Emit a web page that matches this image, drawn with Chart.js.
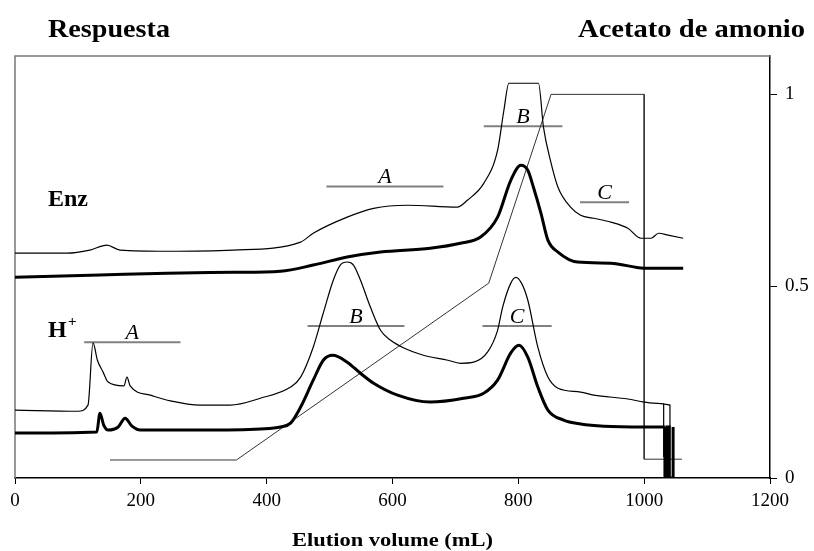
<!DOCTYPE html>
<html>
<head>
<meta charset="utf-8">
<script src="https://cdn.jsdelivr.net/npm/chart.js@4/dist/chart.umd.min.js"></script>
<style>
  html, body { margin: 0; padding: 0; background: #fff; }
  #wrap { width: 814px; height: 551px; position: relative; }
</style>
</head>
<body>
<div id="wrap"><canvas id="chart"></canvas></div>
<script>
// x: elution volume (mL), y: right-axis units
const enzThinX = [0, 83, 119, 146, 167, 242, 347, 454, 474, 528, 570, 624, 703, 719, 745, 767, 777, 785, 832, 840, 851, 863, 883, 899, 920, 947, 974, 995, 1011, 1023, 1038, 1062];
const enzThinY = [0.586, 0.586, 0.594, 0.607, 0.594, 0.591, 0.594, 0.615, 0.638, 0.680, 0.703, 0.711, 0.706, 0.724, 0.768, 0.854, 0.958, 1.029, 1.029, 0.914, 0.828, 0.758, 0.706, 0.685, 0.677, 0.667, 0.651, 0.625, 0.625, 0.638, 0.633, 0.625];

const enzThickX = [0, 135, 242, 347, 422, 474, 528, 581, 660, 708, 740, 767, 788, 804, 815, 824, 836, 847, 863, 894, 947, 1000, 1062];
const enzThickY = [0.523, 0.529, 0.534, 0.536, 0.539, 0.555, 0.576, 0.589, 0.599, 0.612, 0.628, 0.680, 0.776, 0.815, 0.802, 0.758, 0.690, 0.620, 0.589, 0.563, 0.560, 0.547, 0.547];

const hThinX = [0, 100, 116, 124, 131, 140, 148, 173, 178, 183, 215, 247, 294, 342, 390, 438, 454, 474, 490, 506, 517, 528, 538, 549, 565, 581, 597, 618, 649, 688, 708, 729, 751, 767, 775, 788, 796, 805, 815, 831, 847, 863, 899, 920, 974, 1000, 1031];
const hThinY = [0.177, 0.174, 0.190, 0.352, 0.307, 0.276, 0.250, 0.240, 0.263, 0.240, 0.216, 0.201, 0.190, 0.190, 0.208, 0.237, 0.263, 0.341, 0.430, 0.516, 0.555, 0.563, 0.555, 0.516, 0.445, 0.385, 0.359, 0.339, 0.320, 0.307, 0.299, 0.302, 0.328, 0.385, 0.445, 0.508, 0.523, 0.508, 0.464, 0.341, 0.263, 0.234, 0.224, 0.216, 0.206, 0.198, 0.193];
// end of the run, where the trace drops off
const hThinEndX = [1031, 1031, 1031, 1041, 1041];
const hThinEndY = [0.193, 0.055, 0.193, 0.190, 0.133];

const hThickX = [0, 130, 135, 141, 148, 164, 175, 186, 199, 294, 390, 422, 438, 454, 474, 490, 505, 528, 549, 570, 608, 660, 713, 745, 767, 788, 801, 815, 831, 847, 872, 899, 936, 1000, 1033];
const hThickY = [0.117, 0.120, 0.169, 0.138, 0.125, 0.133, 0.156, 0.135, 0.125, 0.125, 0.128, 0.133, 0.143, 0.185, 0.255, 0.307, 0.320, 0.302, 0.273, 0.247, 0.216, 0.198, 0.208, 0.221, 0.255, 0.326, 0.346, 0.315, 0.237, 0.177, 0.151, 0.141, 0.135, 0.133, 0.133];
const hThickEndX = [1033, 1033, 1036, 1036, 1040, 1040, 1046, 1046, 1046];
const hThickEndY = [0.133, 0, 0, 0.133, 0.133, 0, 0, 0.133, 0];

// ammonium acetate gradient
const gradX = [151, 352, 753, 852, 1000, 1000, 1060];
const gradY = [0.047, 0.047, 0.508, 1.0, 1.0, 0.049, 0.049];

// fraction bars: label, start, end, level
const barLabels = ['A', 'B', 'C', 'A', 'B', 'C'];
const barStart = [495, 745, 898, 110, 465, 743];
const barEnd = [681, 870, 976, 263, 619, 853];
const barLevel = [0.760, 0.917, 0.719, 0.354, 0.396, 0.396];

const xTicks = [0, 200, 400, 600, 800, 1000, 1200];
const yTicks = [0, 0.5, 1];

const pts = (xs, ys) => xs.map((x, i) => ({ x: x, y: ys[i] }));

const smooth = { cubicInterpolationMode: 'monotone' };
const straight = { tension: 0 };

const datasets = [
  Object.assign({ data: pts(enzThinX, enzThinY), borderWidth: 1.2 }, smooth),
  Object.assign({ data: pts(enzThickX, enzThickY), borderWidth: 3 }, smooth),
  Object.assign({ data: pts(hThinX, hThinY), borderWidth: 1.2 }, smooth),
  Object.assign({ data: pts(hThinEndX, hThinEndY), borderWidth: 1.2 }, straight),
  Object.assign({ data: pts(hThickX, hThickY), borderWidth: 3 }, smooth),
  Object.assign({ data: pts(hThickEndX, hThickEndY), borderWidth: 3 }, straight),
  Object.assign({ data: pts(gradX, gradY), borderWidth: 1, borderColor: '#333' }, straight)
].map(d => Object.assign({ borderColor: '#000', pointRadius: 0, fill: false }, d));

barLabels.forEach((lab, i) => {
  datasets.push({
    data: [{ x: barStart[i], y: barLevel[i] }, { x: barEnd[i], y: barLevel[i] }],
    borderColor: '#808080', borderWidth: 2, pointRadius: 0, fill: false
  });
});

function fitText(ctx, text, x, y, width, font) {
  ctx.save();
  ctx.font = font;
  const w = ctx.measureText(text).width;
  ctx.translate(x, y);
  ctx.scale(width / w, 1);
  ctx.textAlign = 'left';
  ctx.textBaseline = 'alphabetic';
  ctx.fillText(text, 0, 0);
  ctx.restore();
}

const decor = {
  id: 'decor',
  beforeDatasetsDraw(chart) {
    const { ctx, chartArea: a } = chart;
    ctx.save();
    ctx.strokeStyle = '#777';
    ctx.lineWidth = 1.5;
    ctx.beginPath();
    ctx.moveTo(a.left, a.bottom);
    ctx.lineTo(a.left, a.top);
    ctx.lineTo(a.right, a.top);
    ctx.stroke();
    ctx.restore();
  },
  afterDatasetsDraw(chart) {
    const { ctx } = chart;
    const xs = chart.scales.x, ys = chart.scales.y;
    ctx.save();
    ctx.fillStyle = '#000';
    fitText(ctx, 'Respuesta', 48, 37, 122, 'bold 26px "Liberation Serif", serif');
    fitText(ctx, 'Acetato de amonio', 578, 37, 227, 'bold 26px "Liberation Serif", serif');
    fitText(ctx, 'Elution volume (mL)', 292, 546, 201, 'bold 18px "Liberation Serif", serif');

    ctx.font = 'bold 24px "Liberation Serif", serif';
    ctx.textAlign = 'left';
    ctx.textBaseline = 'alphabetic';
    ctx.fillText('Enz', 48, 206);
    ctx.fillText('H', 48, 337);
    ctx.font = 'bold 15px "Liberation Serif", serif';
    ctx.fillText('+', 68, 326);

    ctx.font = 'italic 22px "Liberation Serif", serif';
    ctx.textAlign = 'center';
    barLabels.forEach((lab, i) => {
      const cx = xs.getPixelForValue((barStart[i] + barEnd[i]) / 2);
      const cy = ys.getPixelForValue(barLevel[i]) - 3;
      ctx.fillText(lab, cx, cy);
    });
    ctx.restore();
  }
};

new Chart(document.getElementById('chart'), {
  type: 'line',
  data: { datasets: datasets },
  options: {
    responsive: true,
    maintainAspectRatio: false,
    animation: false,
    layout: { padding: { left: 15, top: 56, right: 0, bottom: 0 } },
    plugins: { legend: { display: false }, tooltip: { enabled: false } },
    scales: {
      x: {
        type: 'linear',
        min: 0,
        max: 1200,
        afterBuildTicks: s => { s.ticks = xTicks.map(v => ({ value: v })); },
        afterFit: s => { s.height = 73; },
        grid: { drawOnChartArea: false, drawTicks: true, tickLength: 6, color: '#000' },
        border: { display: true, color: '#000', width: 1.5 },
        ticks: {
          color: '#000', padding: 6, maxRotation: 0,
          callback: v => String(v),
          font: { family: '"Liberation Serif", serif', size: 19 }
        }
      },
      y: {
        type: 'linear',
        position: 'right',
        min: 0,
        max: 1.1,
        afterBuildTicks: s => { s.ticks = yTicks.map(v => ({ value: v })); },
        afterFit: s => { s.width = 44; },
        grid: { drawOnChartArea: false, drawTicks: true, tickLength: 7, color: '#000' },
        border: { display: true, color: '#000', width: 1.5 },
        ticks: {
          color: '#000', padding: 8,
          callback: v => String(v),
          font: { family: '"Liberation Serif", serif', size: 19 }
        }
      }
    }
  },
  plugins: [decor]
});
</script>
</body>
</html>
